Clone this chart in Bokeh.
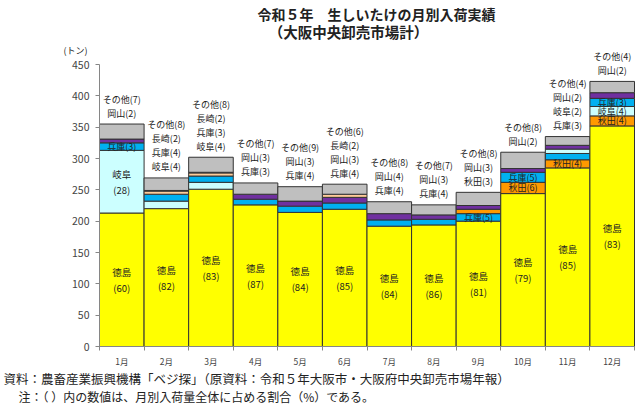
from bokeh.plotting import figure
from bokeh.models import Range1d, FixedTicker
from bokeh.core.properties import value
from bokeh.embed import file_html
from bokeh.resources import INLINE

FONT = "Noto Sans CJK JP"

months = ["1月", "2月", "3月", "4月", "5月", "6月", "7月", "8月", "9月", "10月", "11月", "12月"]
prefs = ["徳島", "秋田", "岐阜", "兵庫", "長崎", "岡山", "その他"]

# tonnage per prefecture
tokushima = [213, 220, 251, 226, 214, 219, 192, 194, 200, 244, 285, 352]
akita     = [0, 0, 0, 0, 0, 0, 0, 0, 7, 18, 13, 16]
gifu      = [100, 12, 11, 0, 0, 0, 0, 0, 0, 0, 7, 15]
hyogo     = [12, 11, 10, 9, 10, 10, 10, 9, 12, 16, 10, 13]
nagasaki  = [0, 5, 5, 0, 0, 5, 0, 0, 0, 0, 0, 0]
okayama   = [6, 1, 1, 8, 8, 9, 10, 7, 6, 6, 6, 9]
others    = [24, 20, 24, 18, 23, 16, 19, 16, 21, 26, 14, 18]

# share (%) labels as printed (None = not printed)
tokushima_pct = [60, 82, 83, 87, 84, 85, 84, 86, 81, 79, 85, 83]
akita_pct     = [None, None, None, None, None, None, None, None, 3, 6, 4, 4]
gifu_pct      = [28, 4, 4, None, None, None, None, None, None, None, 2, 4]
hyogo_pct     = [3, 4, 3, 3, 4, 4, 4, 4, 5, 5, 3, 3]
nagasaki_pct  = [None, 2, 2, None, None, 2, None, None, None, None, None, None]
okayama_pct   = [2, None, None, 3, 3, 3, 4, 3, 3, 2, 2, 2]
others_pct    = [7, 8, 8, 7, 9, 6, 8, 7, 8, 8, 4, 4]

title_1 = "令和５年　生しいたけの月別入荷実績"
title_2 = "（大阪中央卸売市場計）"
unit_label = "(トン)"
note_1 = "資料：農畜産業振興機構「ベジ探」（原資料：令和５年大阪市・大阪府中央卸売市場年報）"
note_2 = "注：（ ）内の数値は、月別入荷量全体に占める割合（%）である。"

# labels drawn inside their segment (month index, prefecture)
inside_two_line = [(i, "徳島") for i in range(12)] + [(0, "岐阜")]
inside_one_line = [(0, "兵庫"), (8, "兵庫"), (9, "秋田"), (9, "兵庫"),
                   (10, "秋田"), (11, "秋田"), (11, "岐阜"), (11, "兵庫")]

colors = {"徳島": "#FFFF00", "秋田": "#FF9900", "岐阜": "#CCFFFF", "兵庫": "#00B0F0",
          "長崎": "#FFCC99", "岡山": "#7030A0", "その他": "#BFBFBF"}

tons = dict(zip(prefs, [tokushima, akita, gifu, hyogo, nagasaki, okayama, others]))
pcts = dict(zip(prefs, [tokushima_pct, akita_pct, gifu_pct, hyogo_pct, nagasaki_pct, okayama_pct, others_pct]))

W, H = 640, 405
FL, FR, FT, FB = 99, 634, 64, 346   # plot area in pixels


def px2x(px):
    return 0.5 + (px - FL) * 12 / (FR - FL)


def px2y(py):
    return (FB - py) * 450 / (FB - FT)


p = figure(width=W, height=H, output_backend="svg", toolbar_location=None,
           x_range=Range1d(px2x(0), px2x(W)), y_range=Range1d(px2y(H), px2y(0)),
           min_border_left=0, min_border_right=0, min_border_top=0, min_border_bottom=0)
p.title.visible = False
p.outline_line_color = None
p.xgrid.visible = False
p.ygrid.visible = False
p.background_fill_color = "white"
p.border_fill_color = "white"

xs, bots, tops, cols = [], [], [], []
in2_x, in2_y, in2_a, in2_b = [], [], [], []
in1_x, in1_y, in1_t = [], [], []
ab_x, ab_y, ab_t, ab_off = [], [], [], []

for i in range(12):
    main = [pr for pr in prefs[:-1] if tons[pr][i] > 0]
    main.sort(key=lambda pr: (-tons[pr][i], prefs.index(pr)))
    order = main + ["その他"]
    b = 0
    seg = {}
    for pr in order:
        t = b + tons[pr][i]
        xs.append(i + 1); bots.append(b); tops.append(t); cols.append(colors[pr])
        seg[pr] = (b, t)
        b = t
    total = b
    above = []
    for pr in reversed(order):
        pc = pcts[pr][i]
        if pc is None:
            continue
        mid = (seg[pr][0] + seg[pr][1]) / 2
        if (i, pr) in inside_two_line:
            in2_x.append(i + 1); in2_y.append(mid); in2_a.append(pr); in2_b.append(f"({pc})")
        elif (i, pr) in inside_one_line:
            in1_x.append(i + 1); in1_y.append(mid); in1_t.append(f"{pr}({pc})")
        else:
            above.append(f"{pr}({pc})")
    n = len(above)
    for k, txt in enumerate(above):
        ab_x.append(i + 1); ab_y.append(total); ab_t.append(txt)
        ab_off.append(-(11 + 14 * (n - 1 - k)))

p.vbar(x=xs, bottom=bots, top=tops, width=1.0, fill_color=cols,
       line_color="#333333", line_width=1)

common = dict(text_align="center", text_baseline="middle", text_font=value(FONT), text_color="#222222")
p.text(x=in2_x, y=in2_y, text=in2_a, y_offset=-8, text_font_size="9.5px", **common)
p.text(x=in2_x, y=in2_y, text=in2_b, y_offset=8, text_font_size="9.5px", **common)
p.text(x=in1_x, y=in1_y, text=in1_t, text_font_size="9px", **common)
p.text(x=ab_x, y=ab_y, text=ab_t, y_offset=ab_off, text_font_size="9px", **common)

# axes placed at the plot-area edges
p.xaxis.fixed_location = 0
p.xaxis.bounds = (0.5, 12.5)
p.xaxis.ticker = FixedTicker(ticks=list(range(1, 13)), minor_ticks=[k + 0.5 for k in range(13)])
p.xaxis.major_label_overrides = {k + 1: m for k, m in enumerate(months)}
p.xaxis.major_tick_line_color = None
p.xaxis.minor_tick_out = 4
p.xaxis.minor_tick_in = 0
p.xaxis.minor_tick_line_color = "#868686"
p.xaxis.axis_line_color = "#868686"
p.xaxis.major_label_text_font = FONT
p.xaxis.major_label_text_font_size = "8.5px"
p.xaxis.major_label_standoff = 2

p.yaxis.fixed_location = 0.5
p.yaxis.bounds = (0, 450)
p.yaxis.ticker = FixedTicker(ticks=list(range(0, 451, 50)))
p.yaxis.minor_tick_line_color = None
p.yaxis.major_tick_out = 4
p.yaxis.major_tick_in = 0
p.yaxis.major_tick_line_color = "#868686"
p.yaxis.axis_line_color = "#868686"
p.yaxis.major_label_text_font = FONT
p.yaxis.major_label_text_font_size = "10.5px"
p.yaxis.major_label_standoff = 6

# titles, unit and notes
p.text(x=[px2x(376)], y=[px2y(13)], text=[title_1], text_font_size="14px",
       text_font_style="bold", **common)
p.text(x=[px2x(348)], y=[px2y(31)], text=[title_2], text_font_size="14.5px",
       text_font_style="bold", **common)
p.text(x=[px2x(75)], y=[px2y(50)], text=[unit_label], text_font_size="9px", **common)
left = dict(text_align="left", text_baseline="middle", text_font=value(FONT), text_color="#222222")
p.text(x=[px2x(3)], y=[px2y(378)], text=[note_1], text_font_size="12.5px", **left)
p.text(x=[px2x(18)], y=[px2y(396)], text=[note_2], text_font_size="12px", **left)

open("out.html", "w").write(file_html(p, INLINE))
